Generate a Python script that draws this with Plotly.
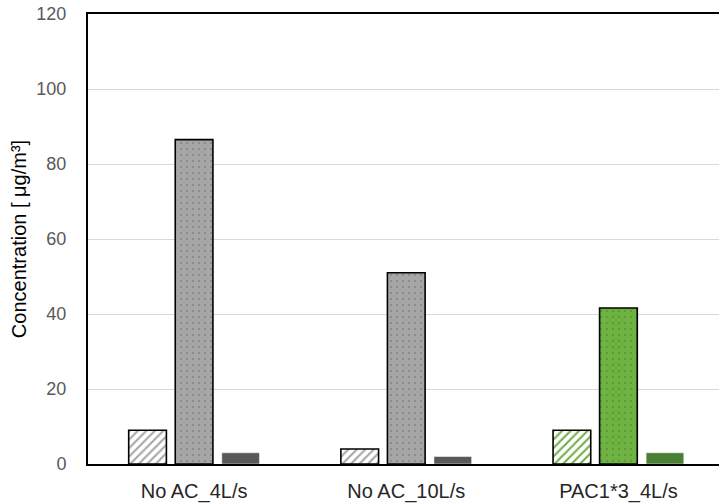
import plotly.graph_objects as go

categories = ["No AC_4L/s", "No AC_10L/s", "PAC1*3_4L/s"]
series_a = [9, 4, 9]        # hatched bars
series_b = [86.5, 51, 41.6] # dotted bars
series_c = [3, 2, 3]        # dark solid bars
y_ticks = [0, 20, 40, 60, 80, 100, 120]

x = list(range(len(categories)))

hatch_fg = ["#a6a6a6", "#a6a6a6", "#70ad47"]
dot_bg = ["#a6a6a6", "#a6a6a6", "#6db33f"]
dark_col = ["#595959", "#595959", "#4a7f35"]

fig = go.Figure()
fig.add_trace(go.Bar(
    x=x, y=series_a,
    marker=dict(color="white", line=dict(color="black", width=1.6),
                pattern=dict(shape="/", fgcolor=hatch_fg, bgcolor="white",
                             size=6, solidity=0.35, fillmode="replace")),
))
fig.add_trace(go.Bar(
    x=x, y=series_b,
    marker=dict(color=dot_bg, line=dict(color="black", width=1.6),
                pattern=dict(shape=".", fgcolor="white", fgopacity=0.6,
                             size=6, solidity=0.06, fillmode="overlay")),
))
fig.add_trace(go.Bar(
    x=x, y=series_c,
    marker=dict(color=dark_col, line=dict(color="white", width=0.5)),
))

fig.update_layout(
    width=719, height=504,
    margin=dict(l=88, r=0, t=14, b=40),
    paper_bgcolor="white", plot_bgcolor="white",
    barmode="group", bargap=0.342, bargroupgap=0.19,
    showlegend=False,
    font=dict(family="Liberation Sans, Arial, sans-serif"),
)
fig.update_xaxes(
    tickmode="array", tickvals=x, ticktext=categories,
    range=[-0.5, 2.474], automargin=False,
    showline=True, linecolor="black", linewidth=2, mirror=True,
    showgrid=False, ticks="", ticklabelstandoff=8,
    tickfont=dict(size=20, color="#262626"),
)
fig.update_yaxes(
    range=[0, 120], tickvals=y_ticks, automargin=False,
    ticklabeloverflow="allow",
    showline=True, linecolor="black", linewidth=2,
    showgrid=True, gridcolor="#d9d9d9", gridwidth=1,
    zeroline=False, ticks="", ticklabelstandoff=16,
    tickfont=dict(size=18, color="#595959"),
    title=dict(text="Concentration [ μg/m³]", font=dict(size=20, color="black"), standoff=4),
)

fig.write_html("out.html", config={"displayModeBar": False},
               post_script="document.body.style.margin='0';document.body.style.overflow='hidden';")
